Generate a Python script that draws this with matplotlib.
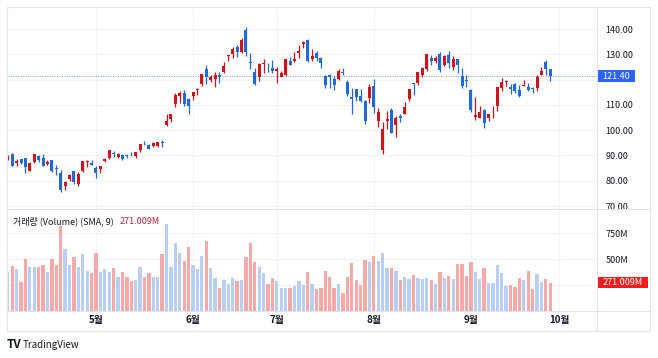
import matplotlib.pyplot as plt
import matplotlib.transforms as mtransforms
from matplotlib.patches import Rectangle
from matplotlib.lines import Line2D
import numpy as np
import pandas as pd

plt.rcParams['font.family'] = ['Noto Sans CJK KR', 'DejaVu Sans']

# Data: daily candles, 2024-04-03 .. 2024-09-27 (price in $, volume in millions)
holidays = ['2024-05-27', '2024-06-19', '2024-07-04', '2024-09-02']
opens = [88.4, 90.4, 86.9, 88.7, 88.9, 83.9, 87.4, 89.7, 89.1, 86.5, 88.3, 84.9, 83.1, 78.1, 80.8, 83.9, 78.9, 83.8, 87.5, 87.2,
         85.0, 84.5, 87.7, 89.0, 91.1, 89.5, 90.3, 90.3, 90.5, 89.8, 92.2, 94.5, 94.3, 93.7, 93.9, 95.4, 102.0, 104.4, 110.2, 113.5, 114.6, 112.5,
         113.6, 115.7, 118.4, 124.0, 119.8, 120.4, 121.8, 123.1, 129.4, 130.0, 133.0, 131.1, 139.8, 127.1, 123.2, 121.2, 126.1, 124.1, 124.6,
         123.5, 121.1, 121.7, 127.4, 127.5, 130.4, 134.0, 135.8, 128.3, 130.6, 128.4, 121.4, 121.9, 120.4, 120.4, 122.8, 119.2, 113.0, 116.2, 113.7, 111.5, 112.9,
         117.5, 103.8, 92.1, 103.8, 107.8, 102.0, 105.6, 106.3, 112.4, 118.5, 118.8, 121.9, 124.3, 128.4, 127.3, 130.0, 125.9, 129.6, 125.1, 128.1, 121.4, 119.5,
         116.0, 105.4, 105.0, 108.0, 104.9, 107.8, 109.4, 116.8, 119.0, 117.0, 118.2, 115.9, 117.4, 117.1, 116.6, 116.5, 122.0, 126.8, 124.0]
highs = [90.3, 90.8, 88.5, 88.8, 88.9, 87.4, 90.7, 90.1, 90.6, 88.1, 88.4, 86.1, 84.3, 80.1, 82.6, 84.0, 83.3, 88.0, 88.3, 88.3,
         86.0, 85.9, 89.2, 92.2, 91.8, 91.0, 90.4, 90.6, 91.3, 91.4, 94.6, 95.6, 94.7, 95.4, 95.5, 96.2, 106.3, 106.5, 114.9, 115.5, 115.8, 112.7,
         115.0, 116.6, 122.4, 125.6, 121.7, 123.1, 122.9, 126.9, 129.8, 132.8, 133.7, 136.3, 140.8, 130.6, 124.5, 126.5, 128.1, 126.4, 127.7,
         124.8, 123.4, 128.3, 128.9, 130.8, 133.8, 135.1, 136.2, 131.9, 131.4, 129.0, 121.9, 122.4, 121.6, 124.1, 124.7, 119.9, 116.6, 116.2, 116.3, 112.0, 118.3,
         120.2, 108.7, 103.4, 107.7, 108.8, 105.5, 106.6, 111.1, 116.2, 118.6, 123.2, 125.0, 130.0, 129.9, 129.4, 130.8, 129.6, 131.3, 129.2, 128.3, 124.4, 121.8,
         116.2, 113.3, 109.7, 108.2, 106.6, 109.4, 117.2, 120.8, 120.0, 118.2, 118.6, 117.7, 119.7, 118.6, 117.0, 121.8, 124.9, 127.7, 124.1]
lows = [88.1, 85.9, 86.0, 86.7, 83.0, 83.9, 87.0, 87.4, 85.9, 86.1, 83.5, 82.4, 75.6, 76.2, 79.9, 78.8, 77.9, 83.5, 85.5, 86.4,
        81.2, 83.1, 87.3, 88.8, 89.6, 89.1, 88.2, 88.9, 89.7, 89.1, 91.5, 94.0, 92.4, 93.4, 93.2, 93.2, 101.5, 103.1, 109.0, 110.9, 109.7, 106.4,
        112.0, 114.0, 117.5, 118.3, 119.0, 117.0, 118.7, 122.7, 127.2, 128.7, 129.0, 130.7, 129.5, 124.3, 118.0, 119.3, 122.6, 122.9, 122.8,
        118.8, 121.0, 121.4, 125.7, 127.0, 128.6, 132.4, 127.1, 127.2, 127.2, 124.6, 116.7, 116.7, 116.0, 119.9, 121.8, 113.4, 106.3, 111.6, 111.3, 102.5, 110.9,
        106.8, 101.4, 90.7, 100.6, 98.7, 97.5, 103.4, 106.3, 111.6, 114.1, 117.7, 121.2, 123.4, 125.9, 126.7, 123.1, 125.2, 124.4, 123.9, 122.6, 116.7, 117.2,
        107.3, 104.1, 104.8, 101.0, 103.7, 105.0, 107.4, 115.4, 117.6, 114.4, 114.6, 113.2, 117.3, 115.4, 114.9, 115.4, 121.8, 121.8, 119.3]
closes = [88.9, 85.9, 88.0, 87.1, 85.3, 87.1, 90.6, 88.1, 86.0, 87.4, 84.0, 84.6, 76.2, 79.5, 82.4, 79.6, 82.6, 87.8, 87.7, 86.4,
          83.1, 85.8, 88.8, 92.1, 90.6, 90.4, 88.7, 89.9, 90.4, 91.3, 94.6, 94.4, 92.5, 94.8, 95.4, 94.9, 103.8, 106.5, 114.0, 114.8, 110.5, 109.6,
          115.0, 116.4, 122.4, 120.9, 120.9, 121.8, 120.9, 125.2, 129.6, 131.9, 131.0, 135.6, 130.8, 126.6, 118.1, 126.1, 126.4, 124.0, 123.5,
          124.3, 122.7, 128.3, 125.8, 128.2, 131.4, 134.9, 127.4, 129.2, 128.4, 126.4, 118.0, 121.1, 117.9, 123.5, 122.6, 114.3, 112.3, 113.1, 111.6, 103.7, 117.0,
          109.2, 107.3, 100.4, 104.3, 98.9, 105.0, 104.8, 109.0, 116.1, 118.1, 122.9, 124.6, 130.0, 127.3, 128.5, 123.7, 129.4, 126.5, 128.3, 125.6, 117.6, 119.4,
          108.0, 106.2, 107.2, 102.8, 106.5, 108.1, 116.9, 119.1, 119.1, 116.2, 115.6, 113.4, 117.9, 116.0, 116.3, 120.9, 123.5, 124.0, 121.4]
volumes = [372, 436, 401, 282, 503, 426, 426, 426, 439, 372, 500, 446, 821, 593, 439, 516, 424, 548, 388, 362,
           561, 372, 401, 372, 413, 324, 372, 330, 285, 298, 420, 324, 362, 324, 324, 548, 835, 426, 651, 561, 484, 612,
           442, 401, 529, 670, 413, 314, 224, 298, 260, 314, 292, 295, 522, 657, 474, 426, 362, 256, 317,
           288, 224, 224, 218, 240, 288, 250, 372, 256, 212, 218, 388, 324, 224, 256, 176, 330, 458, 298, 250, 487, 474,
           529, 481, 554, 410, 417, 388, 295, 330, 311, 343, 317, 304, 314, 295, 260, 378, 321, 333, 304, 449, 452, 337,
           474, 372, 304, 410, 272, 272, 442, 369, 237, 250, 234, 314, 295, 385, 212, 356, 282, 308, 271.009]
month_labels = ['5월', '6월', '7월', '8월', '9월', '10월']
price_grid = [70, 80, 90, 100, 110, 120, 130, 140]
price_labels = [70, 80, 90, 100, 110, 130, 140]   # 120 is hidden behind the last-price tag
vol_ticks = [500, 750]
last_price = 121.40
last_volume = 271.009

o = np.array(opens); h = np.array(highs); l = np.array(lows); c = np.array(closes)
v = np.array(volumes)
x = np.arange(len(c))

# trading days incl. two days after the data so the 10월 tick exists
days = pd.bdate_range('2024-04-03', '2024-10-01', freq='C', holidays=holidays)
month_pos = [i for i in range(1, len(days)) if days[i].month != days[i - 1].month]

UP, DOWN = '#d0121b', '#1f6ad8'
VUP, VDOWN = '#b9cef4', '#f6a9a7'
GRID = '#f0f3fa'
TXT = '#131722'
LINE = '#e0e3eb'

W, H = 658, 358
def fx(px): return px / W
def fy(py): return 1 - py / H

fig = plt.figure(figsize=(6.58, 3.58), dpi=100)
ax = fig.add_axes([fx(8), fy(209), fx(597) - fx(8), fy(7) - fy(209)])
axv = fig.add_axes([fx(8), fy(311), fx(597) - fx(8), fy(209) - fy(311)])

up = c >= o
cols = np.where(up, UP, DOWN)

# candles
ax.vlines(x, l, h, colors=cols, lw=0.9, zorder=3)
ax.bar(x, np.maximum(np.abs(c - o), 0.3), bottom=np.minimum(o, c), width=0.68,
       color=cols, lw=0, zorder=4)

# volume (TradingView default colouring: opposite of the candle palette here)
axv.bar(x, v, width=0.75, color=np.where(up, VUP, VDOWN), lw=0, zorder=3)

for a in (ax, axv):
    a.set_xlim(0.05, 133.6)
    for s in a.spines.values():
        s.set_visible(False)
    a.set_xticks(month_pos)
    for m in month_pos:
        a.axvline(m, color=GRID, lw=0.8, zorder=0)

ax.set_ylim(68.85, 148.7)
ax.set_xticklabels([])
ax.tick_params(axis='x', length=0)
ax.yaxis.tick_right()
ax.set_yticks(price_labels)
ax.set_yticklabels([f'{t:.2f}' for t in price_labels])
ax.tick_params(axis='y', length=0, pad=6, labelsize=6.5, labelcolor=TXT)
for t in price_grid:
    ax.axhline(t, color=GRID, lw=0.8, zorder=0)

axv.set_ylim(0, 981)
axv.yaxis.tick_right()
axv.set_yticks(vol_ticks)
axv.set_yticklabels([f'{t}M' for t in vol_ticks])
axv.tick_params(axis='y', length=0, pad=6, labelsize=6.5, labelcolor=TXT)
for t in [250, 500, 750]:
    axv.axhline(t, color=GRID, lw=0.8, zorder=0)
axv.set_xticklabels(month_labels, fontsize=7, fontweight='bold', color=TXT)
axv.tick_params(axis='x', length=0, pad=3)

# last price line + label
ax.axhline(last_price, color='#7a9ad0', lw=0.7, ls=(0, (1, 1.5)), zorder=2)
tr = mtransforms.blended_transform_factory(ax.transAxes, ax.transData)
ax.add_patch(Rectangle((1.0, last_price - 2.2), 38 / 589, 4.4, transform=tr,
                       fc='#2962ff', ec='none', clip_on=False))
ax.text(1.0 + 19 / 589, last_price, f'{last_price:.2f}', transform=tr, ha='center',
        va='center', color='white', fontsize=6.5)

trv = mtransforms.blended_transform_factory(axv.transAxes, axv.transData)
axv.add_patch(Rectangle((1.0, last_volume - 53), 51 / 589, 106, transform=trv,
                        fc='#f21d1d', ec='none', clip_on=False))
axv.text(1.0 + 25.5 / 589, last_volume, f'{last_volume:.3f}M', transform=trv,
         ha='center', va='center', color='white', fontsize=6.5)

# volume legend
leg = axv.text(5 / 589, 0.88, '거래량 (Volume) (SMA, 9)', transform=axv.transAxes,
               fontsize=6.5, color=TXT, va='center')
axv.annotate(f'{last_volume:.3f}M', xy=(1, 0.5), xycoords=leg, xytext=(4, 0),
             textcoords='offset points', fontsize=6.5, color='#b22833', va='center')

# frame and pane separators
fig.add_artist(Rectangle((fx(7), fy(331)), fx(650) - fx(7), fy(7) - fy(331),
                         transform=fig.transFigure, fill=False, ec=LINE, lw=0.8))
fig.add_artist(Line2D([fx(597), fx(597)], [fy(7), fy(331)], color=LINE, lw=0.8))
fig.add_artist(Line2D([fx(7), fx(650)], [fy(209), fy(209)], color=LINE, lw=0.8))
fig.add_artist(Line2D([fx(7), fx(650)], [fy(311), fy(311)], color=LINE, lw=0.8))

# TradingView mark
fig.text(fx(7), fy(345), 'TV', fontsize=8.5, fontweight='bold', color=TXT, va='center')
fig.text(fx(23), fy(345), 'TradingView', fontsize=7, color=TXT, va='center')

fig.savefig('out.png', dpi=100, facecolor='white')
